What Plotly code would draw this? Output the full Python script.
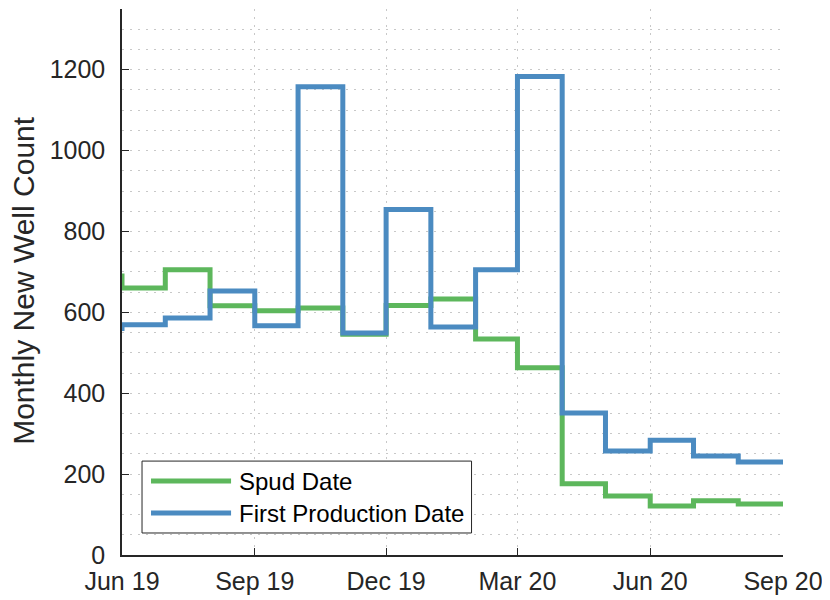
import plotly.graph_objects as go

# Month starts (first value precedes the visible window; last repeats to close the stairs)
months = ["2019-05-01", "2019-06-01", "2019-07-01", "2019-08-01", "2019-09-01",
          "2019-10-01", "2019-11-01", "2019-12-01", "2020-01-01", "2020-02-01",
          "2020-03-01", "2020-04-01", "2020-05-01", "2020-06-01", "2020-07-01",
          "2020-08-01", "2020-09-01"]
spud = [690, 660, 705, 616, 604, 611, 546, 617, 633, 534, 463, 176, 146, 121, 134, 126, 126]
first_prod = [560, 569, 586, 653, 567, 1158, 549, 854, 564, 705, 1183, 351, 257, 284, 245, 230, 230]

tick_dates = ["2019-06-01", "2019-09-01", "2019-12-01", "2020-03-01", "2020-06-01", "2020-09-01"]
tick_labels = ["Jun 19", "Sep 19", "Dec 19", "Mar 20", "Jun 20", "Sep 20"]
y_ticks = [0, 200, 400, 600, 800, 1000, 1200]

series_names = ["Spud Date", "First Production Date"]
GREEN = "#5DB75C"
BLUE = "#4B8BC1"
FONT = "Liberation Sans, Arial, Helvetica, sans-serif"
TXT = "#262626"

fig = go.Figure()
fig.add_trace(go.Scatter(x=months, y=spud, mode="lines", line_shape="hv",
                         line=dict(color=GREEN, width=5), name=series_names[0],
                         showlegend=False))
fig.add_trace(go.Scatter(x=months, y=first_prod, mode="lines", line_shape="hv",
                         line=dict(color=BLUE, width=5), name=series_names[1],
                         showlegend=False))

grid_dash = "2px,6px"
# The page body has an 8px margin, so the figure is sized/placed to compensate.
fig.update_layout(
    width=822, height=592,
    margin=dict(l=114, r=47, t=1, b=45, autoexpand=False),
    paper_bgcolor="white", plot_bgcolor="white",
    font=dict(family=FONT, color=TXT),
    xaxis=dict(
        type="date", range=["2019-06-01", "2020-09-01"],
        tickvals=tick_dates, ticktext=tick_labels,
        tickfont=dict(size=25, color=TXT),
        ticks="inside", ticklen=7, tickcolor=TXT, tickwidth=1,
        ticklabelstandoff=3,
        showline=True, linecolor=TXT, linewidth=1.5,
        showgrid=True, gridcolor="#c8c8c8", griddash=grid_dash, gridwidth=1,
        zeroline=False, automargin=False,
    ),
    yaxis=dict(
        range=[0, 1350], tickvals=y_ticks,
        tickfont=dict(size=25, color=TXT),
        ticks="inside", ticklen=7, tickcolor=TXT, tickwidth=1,
        ticklabelstandoff=10,
        showline=True, linecolor=TXT, linewidth=1.5,
        showgrid=True, gridcolor="#c8c8c8", griddash=grid_dash, gridwidth=1,
        minor=dict(dtick=50, showgrid=True, gridcolor="#c8c8c8", griddash=grid_dash, gridwidth=1),
        zeroline=False, automargin=False,
    ),
)

# Manual legend (MATLAB style)
lx0, lx1, ly0, ly1 = 0.0303, 0.5288, 0.0403, 0.172
fig.add_shape(type="rect", xref="paper", yref="paper", x0=lx0, x1=lx1, y0=ly0, y1=ly1,
              line=dict(color=TXT, width=1), fillcolor="white", layer="above")
for name, col, yy in [(series_names[0], GREEN, 0.1355), (series_names[1], BLUE, 0.0769)]:
    fig.add_shape(type="line", xref="paper", yref="paper", x0=0.0439, x1=0.165, y0=yy, y1=yy,
                  line=dict(color=col, width=5), layer="above")
    fig.add_annotation(text=name, xref="paper", yref="paper", x=0.174, y=yy,
                       xanchor="left", yanchor="middle", showarrow=False,
                       font=dict(size=24, color="black", family=FONT))

# Y label
fig.add_annotation(text="Monthly New Well Count", xref="paper", yref="paper",
                   x=-0.1485, y=0.5037, xanchor="center", yanchor="middle",
                   textangle=-90, showarrow=False, font=dict(size=30, color=TXT, family=FONT))

# Title (mostly cropped off at the top)
fig.add_annotation(text="(b)", xref="paper", yref="paper", x=0.3515, y=1.0055,
                   xanchor="center", yanchor="bottom", showarrow=False,
                   font=dict(size=26, color="black", family=FONT))

fig.write_html("out.html")
